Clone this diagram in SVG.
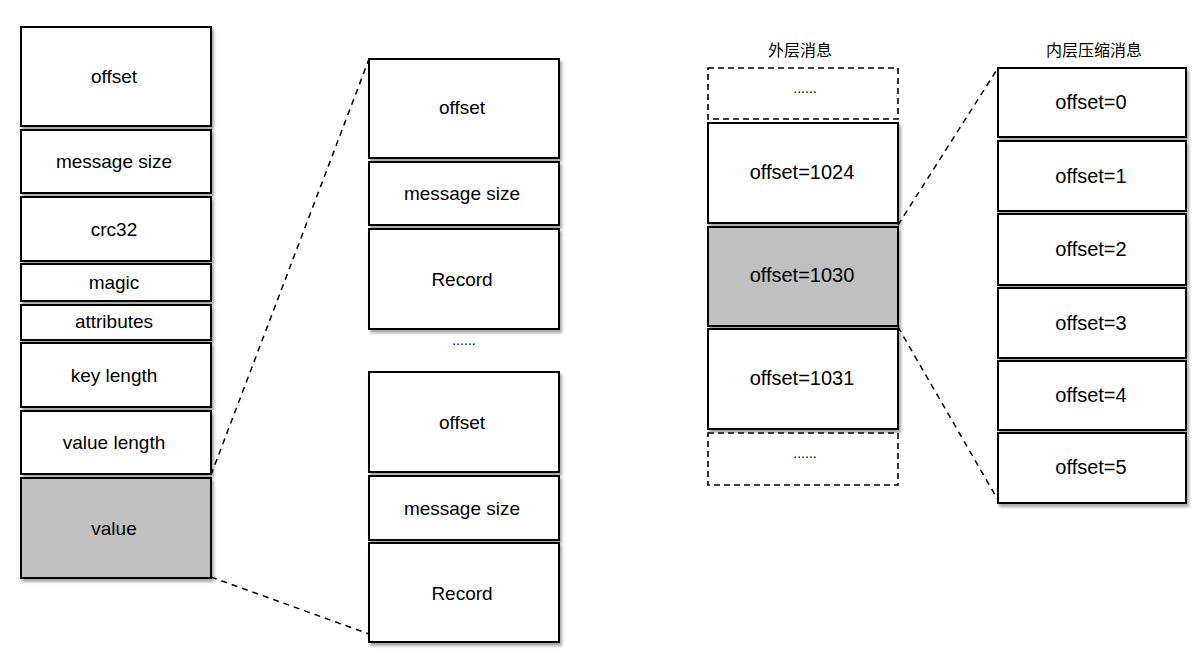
<svg xmlns="http://www.w3.org/2000/svg" width="1200" height="668" viewBox="0 0 1200 668">
<defs>
<filter id="sh" x="-10%" y="-10%" width="130%" height="130%">
<feDropShadow dx="2" dy="3" stdDeviation="1.5" flood-color="#000" flood-opacity="0.35"/>
</filter>
</defs>
<style>
.b{fill:#fff;stroke:#000;stroke-width:2;filter:url(#sh)}
.g{fill:#c0c0c0;stroke:#000;stroke-width:2;filter:url(#sh)}
.d{fill:#fff;stroke:#000;stroke-width:1.6;stroke-dasharray:6 4}
.t{font-family:"Liberation Sans",Arial,sans-serif;font-size:19px;fill:#000;text-anchor:middle}
.n{font-size:20px}
.dot{font-family:"Liberation Sans",Arial,sans-serif;font-size:14px;fill:#000;text-anchor:middle}
.h{font-family:"Noto Sans CJK SC","Liberation Sans",sans-serif;font-size:16px;fill:#000;text-anchor:middle}
.c{fill:none;stroke:#000;stroke-width:1.5;stroke-dasharray:6 5}
</style>
<rect width="1200" height="668" fill="#fff"/>
<g id="connectors">
<line class="c" x1="211" y1="475" x2="369" y2="59"/>
<line class="c" x1="211" y1="577" x2="369" y2="634"/>
<line class="c" x1="898" y1="225" x2="998" y2="68"/>
<line class="c" x1="898" y1="327" x2="998" y2="500"/>
</g>
<g id="left">
<g id="l-offset"><rect class="b" x="21" y="27" width="190" height="99"/><text class="t" x="114" y="83">offset</text></g>
<g id="l-msgsize"><rect class="b" x="21" y="130" width="190" height="63"/><text class="t" x="114" y="168">message size</text></g>
<g id="l-crc32"><rect class="b" x="21" y="197" width="190" height="64"/><text class="t" x="114" y="236">crc32</text></g>
<g id="l-magic"><rect class="b" x="21" y="264" width="190" height="37"/><text class="t" x="114" y="289">magic</text></g>
<g id="l-attributes"><rect class="b" x="21" y="305" width="190" height="35"/><text class="t" x="114" y="328">attributes</text></g>
<g id="l-keylength"><rect class="b" x="21" y="343" width="190" height="64"/><text class="t" x="114" y="382">key length</text></g>
<g id="l-valuelength"><rect class="b" x="21" y="411" width="190" height="63"/><text class="t" x="114" y="449">value length</text></g>
<g id="l-value"><rect class="g" x="21" y="478" width="190" height="100"/><text class="t" x="114" y="535">value</text></g>
</g>
<g id="middle">
<g id="m-offset1"><rect class="b" x="369" y="59" width="190" height="99"/><text class="t" x="462" y="114">offset</text></g>
<g id="m-msgsize1"><rect class="b" x="369" y="162" width="190" height="63"/><text class="t" x="462" y="200">message size</text></g>
<g id="m-record1"><rect class="b" x="369" y="229" width="190" height="100"/><text class="t" x="462" y="286">Record</text></g>
<text class="dot" x="464" y="345">......</text>
<g id="m-offset2"><rect class="b" x="369" y="372" width="190" height="100"/><text class="t" x="462" y="429">offset</text></g>
<g id="m-msgsize2"><rect class="b" x="369" y="476" width="190" height="64"/><text class="t" x="462" y="515">message size</text></g>
<g id="m-record2"><rect class="b" x="369" y="543" width="190" height="99"/><text class="t" x="462" y="600">Record</text></g>
</g>
<g id="outer">
<text class="h" x="800" y="56">外层消息</text>
<g id="o-dots1"><rect class="d" x="708" y="68" width="190" height="51"/><text class="dot" x="805" y="93">......</text></g>
<g id="o-1024"><rect class="b" x="708" y="123" width="190" height="100"/><text class="t n" x="802" y="179">offset=1024</text></g>
<g id="o-1030"><rect class="g" x="708" y="227" width="190" height="99"/><text class="t n" x="802" y="282">offset=1030</text></g>
<g id="o-1031"><rect class="b" x="708" y="329" width="190" height="100"/><text class="t n" x="802" y="385">offset=1031</text></g>
<g id="o-dots2"><rect class="d" x="708" y="433" width="190" height="52"/><text class="dot" x="805" y="458">......</text></g>
</g>
<g id="inner">
<text class="h" x="1094" y="56">内层压缩消息</text>
<g id="i-0"><rect class="b" x="998" y="68" width="188" height="69"/><text class="t n" x="1091" y="109">offset=0</text></g>
<g id="i-1"><rect class="b" x="998" y="141" width="188" height="70"/><text class="t n" x="1091" y="183">offset=1</text></g>
<g id="i-2"><rect class="b" x="998" y="214" width="188" height="71"/><text class="t n" x="1091" y="256">offset=2</text></g>
<g id="i-3"><rect class="b" x="998" y="288" width="188" height="70"/><text class="t n" x="1091" y="330">offset=3</text></g>
<g id="i-4"><rect class="b" x="998" y="361" width="188" height="69"/><text class="t n" x="1091" y="402">offset=4</text></g>
<g id="i-5"><rect class="b" x="998" y="433" width="188" height="70"/><text class="t n" x="1091" y="474">offset=5</text></g>
</g>
</svg>
